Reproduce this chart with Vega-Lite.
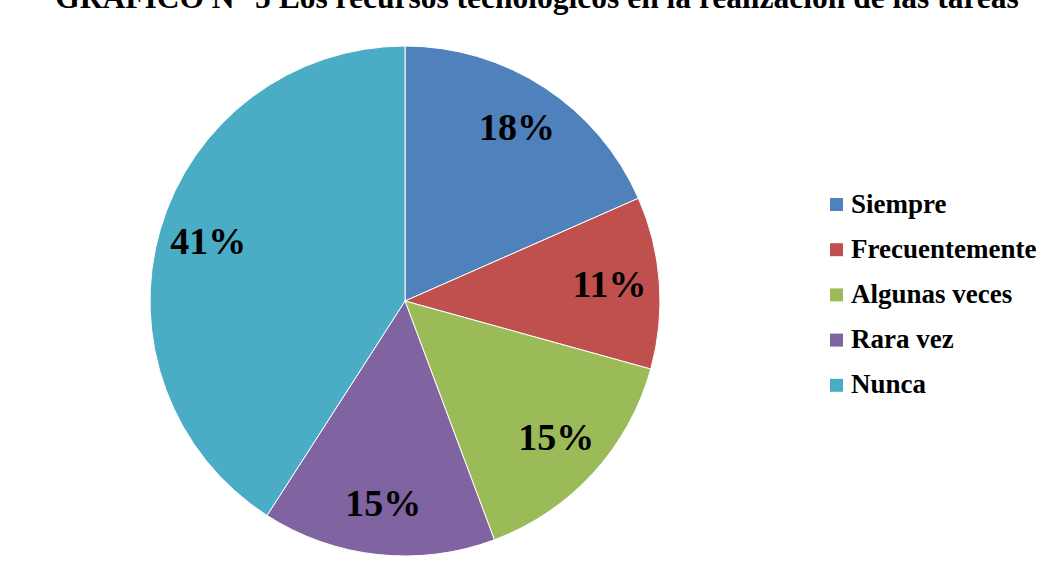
{
  "$schema": "https://vega.github.io/schema/vega-lite/v6.json",
  "autosize": "none",
  "width": 810,
  "height": 522,
  "padding": {"left": 0, "top": 40, "right": 236, "bottom": 6},
  "background": "white",
  "title": {
    "text": "GRÁFICO N° 5 Los recursos tecnológicos en la realización de las tareas",
    "font": "Liberation Serif",
    "fontSize": 31.5,
    "fontWeight": "bold",
    "color": "black",
    "anchor": "middle",
    "baseline": "alphabetic",
    "offset": 1,
    "dx": 132
  },
  "data": {
    "values": [
      {"categoria": "Siempre", "porcentaje": 0.184, "orden": 1},
      {"categoria": "Frecuentemente", "porcentaje": 0.109, "orden": 2},
      {"categoria": "Algunas veces", "porcentaje": 0.150, "orden": 3},
      {"categoria": "Rara vez", "porcentaje": 0.148, "orden": 4},
      {"categoria": "Nunca", "porcentaje": 0.409, "orden": 5}
    ]
  },
  "encoding": {
    "theta": {"field": "porcentaje", "type": "quantitative", "stack": true},
    "order": {"field": "orden", "type": "quantitative"},
    "color": {
      "field": "categoria",
      "type": "nominal",
      "scale": {
        "domain": ["Siempre", "Frecuentemente", "Algunas veces", "Rara vez", "Nunca"],
        "range": ["#4F81BD", "#C0504D", "#9BBB59", "#8064A2", "#4BACC6"]
      },
      "legend": {
        "title": null,
        "orient": "none",
        "legendX": 823,
        "legendY": 151,
        "padding": 0,
        "symbolType": "square",
        "symbolSize": 169,
        "symbolStrokeWidth": 0,
        "labelFont": "Liberation Serif",
        "labelFontSize": 27,
        "labelFontWeight": "bold",
        "labelColor": "black",
        "labelOffset": 1,
        "rowPadding": 17.2,
        "labelLimit": 300
      }
    }
  },
  "layer": [
    {
      "mark": {"type": "arc", "outerRadius": 255, "stroke": "white", "strokeWidth": 1}
    },
    {
      "mark": {
        "type": "text",
        "radius": 205,
        "font": "Liberation Serif",
        "fontSize": 38,
        "fontWeight": "bold",
        "fill": "black"
      },
      "encoding": {
        "text": {"field": "porcentaje", "type": "quantitative", "format": ".0%"},
        "color": {"value": "black"}
      }
    }
  ]
}
